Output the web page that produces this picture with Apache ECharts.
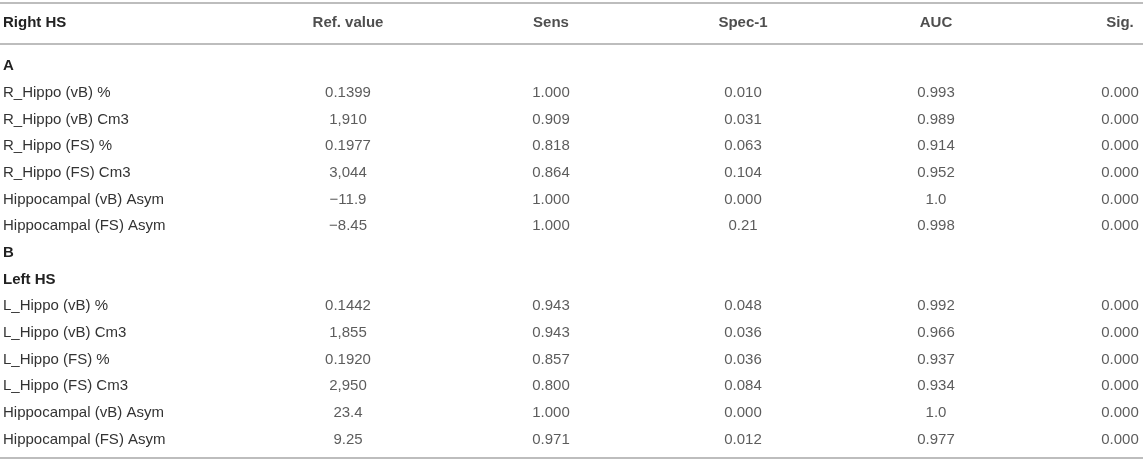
<!DOCTYPE html>
<html>
<head>
<meta charset="utf-8">
<script src="https://cdn.jsdelivr.net/npm/echarts@6/dist/echarts.min.js"></script>
<style>
  html, body { margin: 0; padding: 0; background: #fff; }
  #main { width: 1143px; height: 460px; }
</style>
</head>
<body>
<div id="main"></div>
<script>
// 表头
var headers = ['Right HS', 'Ref. value', 'Sens', 'Spec-1', 'AUC', 'Sig.'];
// 行名（A、B、Left HS 是分组行）
var rowLabels = ['A', 'R_Hippo (vB) %', 'R_Hippo (vB) Cm3', 'R_Hippo (FS) %', 'R_Hippo (FS) Cm3',
  'Hippocampal (vB) Asym', 'Hippocampal (FS) Asym', 'B', 'Left HS',
  'L_Hippo (vB) %', 'L_Hippo (vB) Cm3', 'L_Hippo (FS) %', 'L_Hippo (FS) Cm3',
  'Hippocampal (vB) Asym', 'Hippocampal (FS) Asym'];
var groupRows = ['A', 'B', 'Left HS'];
// 各列数值
var refValue = [null, '0.1399', '1,910', '0.1977', '3,044', '\u221211.9', '\u22128.45', null, null,
  '0.1442', '1,855', '0.1920', '2,950', '23.4', '9.25'];
var sens = [null, '1.000', '0.909', '0.818', '0.864', '1.000', '1.000', null, null,
  '0.943', '0.943', '0.857', '0.800', '1.000', '0.971'];
var spec1 = [null, '0.010', '0.031', '0.063', '0.104', '0.000', '0.21', null, null,
  '0.048', '0.036', '0.036', '0.084', '0.000', '0.012'];
var auc = [null, '0.993', '0.989', '0.914', '0.952', '1.0', '0.998', null, null,
  '0.992', '0.966', '0.937', '0.934', '1.0', '0.977'];
var sig = [null, '0.000', '0.000', '0.000', '0.000', '0.000', '0.000', null, null,
  '0.000', '0.000', '0.000', '0.000', '0.000', '0.000'];

(function () {
  var myChart = echarts.init(document.getElementById('main'));
  var font = '"Liberation Sans", Arial, Helvetica, sans-serif';
  var lineColor = '#bdbdbd';
  // 列的中心位置（布局用）
  var colPos = [348, 551, 743, 936, 1120];
  var columns = [refValue, sens, spec1, auc, sig];

  var series = [];
  // 表头文字
  series.push({
    type: 'scatter',
    xAxisIndex: 0,
    yAxisIndex: 0,
    symbolSize: 0,
    silent: true,
    data: headers.slice(1).map(function (h, i) { return [colPos[i], 0, h]; }),
    label: {
      show: true,
      position: 'inside',
      formatter: function (p) { return p.value[2]; },
      color: '#222',
      fontFamily: font,
      fontSize: 15,
      fontWeight: 'bold'
    }
  });
  // 表格内容
  columns.forEach(function (col, c) {
    var data = [];
    col.forEach(function (v, r) {
      if (v !== null) data.push([colPos[c], r, v]);
    });
    series.push({
      type: 'scatter',
      xAxisIndex: 2,
      yAxisIndex: 1,
      symbolSize: 0,
      silent: true,
      data: data,
      label: {
        show: true,
        position: 'inside',
        formatter: function (p) { return p.value[2]; },
        color: '#333',
        fontFamily: font,
        fontSize: 15
      }
    });
  });

  var option = {
    animation: false,
    grid: [
      { left: 0, right: 0, top: 3, height: 40.5 },
      { left: 0, right: 0, top: 52.7, height: 400 }
    ],
    xAxis: [
      // 顶部线
      { gridIndex: 0, type: 'value', min: 0, max: 1143, position: 'top',
        axisLine: { show: true, onZero: false, lineStyle: { color: lineColor, width: 2 } },
        axisTick: { show: false }, axisLabel: { show: false }, splitLine: { show: false } },
      // 表头下方的线
      { gridIndex: 0, type: 'value', min: 0, max: 1143, position: 'bottom',
        axisLine: { show: true, onZero: false, lineStyle: { color: lineColor, width: 2 } },
        axisTick: { show: false }, axisLabel: { show: false }, splitLine: { show: false } },
      // 底部线
      { gridIndex: 1, type: 'value', min: 0, max: 1143, position: 'bottom', offset: 5.5,
        axisLine: { show: true, onZero: false, lineStyle: { color: lineColor, width: 2 } },
        axisTick: { show: false }, axisLabel: { show: false }, splitLine: { show: false } }
    ],
    yAxis: [
      { gridIndex: 0, type: 'category', data: [headers[0]],
        axisLine: { show: false }, axisTick: { show: false }, splitLine: { show: false },
        axisLabel: { inside: true, margin: 3, color: '#222', fontFamily: font, fontSize: 15, fontWeight: 'bold' } },
      { gridIndex: 1, type: 'category', inverse: true, data: rowLabels,
        axisLine: { show: false }, axisTick: { show: false }, splitLine: { show: false },
        axisLabel: {
          inside: true,
          margin: 3,
          interval: 0,
          formatter: function (v, i) {
            return groupRows.indexOf(v) >= 0 ? '{g|' + v + '}' : '{n|' + v + '}';
          },
          rich: {
            g: { color: '#222', fontFamily: font, fontSize: 15, fontWeight: 'bold' },
            n: { color: '#333', fontFamily: font, fontSize: 15 }
          }
        } }
    ],
    series: series
  };
  myChart.setOption(option);
  window.addEventListener('resize', function () {
    myChart.resize();
  });
})();
</script>
</body>
</html>
